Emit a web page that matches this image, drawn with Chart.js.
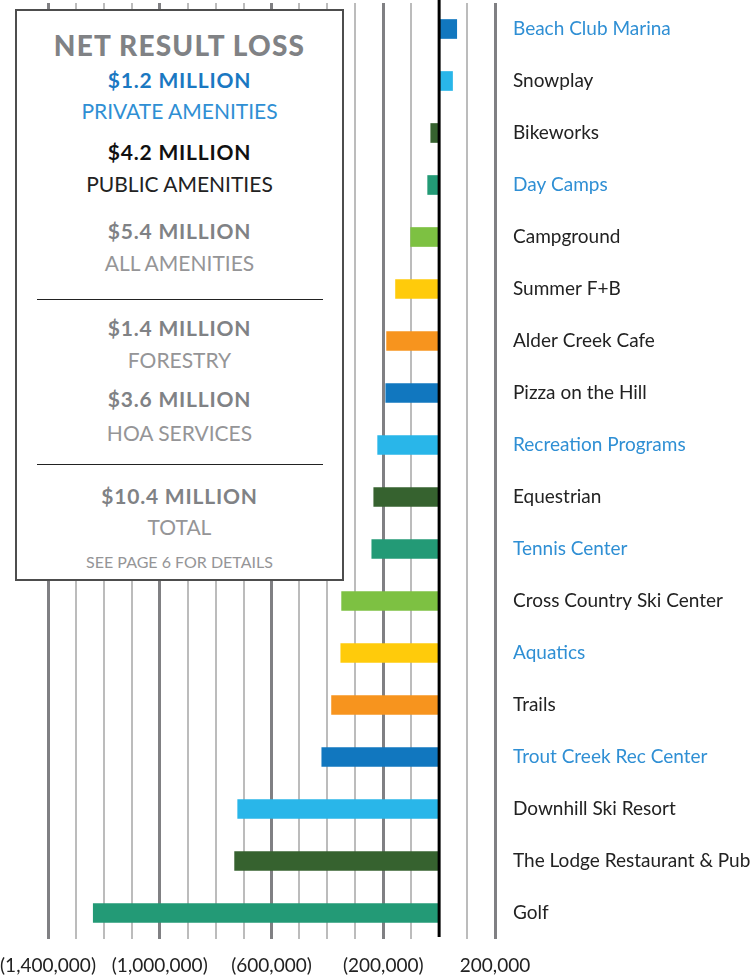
<!DOCTYPE html>
<html>
<head>
  <script src="https://cdn.jsdelivr.net/npm/chart.js"></script>
  <style>
    body { margin: 0; background: #fff; }
    .wrap { position: relative; width: 755px; height: 976px; font-family: Lato, sans-serif; }
    .box { position: absolute; left: 15px; top: 9px; width: 325px; height: 568px; border: 2px solid #4d4d4d; background: #fff; }
    .t { position: absolute; left: 15px; width: 329px; text-align: center; line-height: 30px; height: 30px; white-space: nowrap; }
    .big { font-size: 21px; font-weight: 700; color: #808285; letter-spacing: 0.8px; }
    .sub { font-size: 21px; font-weight: 400; color: #959597; }
    .rule { position: absolute; left: 37px; width: 286px; height: 0; border-top: 1.5px solid #222; }
  </style>
</head>
<body>
  <div class="wrap">
    <canvas id="lossChart" width="755" height="976"></canvas>
    <div class="box"></div>
    <div class="t" style="top:30px; font-size:28px; font-weight:900; color:#808285; letter-spacing:1.2px;">NET RESULT LOSS</div>
    <div class="t big" style="top:65px; color:#1a78c2;">$1.2 MILLION</div>
    <div class="t sub" style="top:96px; color:#2f8fd4;">PRIVATE AMENITIES</div>
    <div class="t big" style="top:137px; color:#111;">$4.2 MILLION</div>
    <div class="t sub" style="top:169px; color:#222;">PUBLIC AMENITIES</div>
    <div class="t big" style="top:216px;">$5.4 MILLION</div>
    <div class="t sub" style="top:248px;">ALL AMENITIES</div>
    <div class="rule" style="top:299px;"></div>
    <div class="t big" style="top:313px;">$1.4 MILLION</div>
    <div class="t sub" style="top:345px;">FORESTRY</div>
    <div class="t big" style="top:384px;">$3.6 MILLION</div>
    <div class="t sub" style="top:418px;">HOA SERVICES</div>
    <div class="rule" style="top:464px;"></div>
    <div class="t big" style="top:481px;">$10.4 MILLION</div>
    <div class="t sub" style="top:512px;">TOTAL</div>
    <div class="t" style="top:547px; font-size:16px; color:#959597;">SEE PAGE 6 FOR DETAILS</div>
  </div>
<script>
  // amenities, top to bottom
  var categories = ['Beach Club Marina', 'Snowplay', 'Bikeworks', 'Day Camps', 'Campground',
    'Summer F+B', 'Alder Creek Cafe', 'Pizza on the Hill', 'Recreation Programs', 'Equestrian',
    'Tennis Center', 'Cross Country Ski Center', 'Aquatics', 'Trails', 'Trout Creek Rec Center',
    'Downhill Ski Resort', 'The Lodge Restaurant & Pub', 'Golf'];

  // net result ($)
  var netResult = [63000, 48000, -30000, -41000, -102000, -156000, -188000, -191000, -220000,
    -234000, -241000, -349000, -352000, -385000, -420000, -721000, -732000, -1238000];

  var barColors = ['#1177bf', '#29b6e9', '#36622f', '#239a76', '#7dc142', '#ffcb0b', '#f7941e',
    '#1177bf', '#29b6e9', '#36622f', '#239a76', '#7dc142', '#ffcb0b', '#f7941e',
    '#1177bf', '#29b6e9', '#36622f', '#239a76'];

  // private amenities are blue, public ones dark
  var isPrivate = [true, false, false, true, false, false, false, false, true, false,
    true, false, true, false, true, false, false, false];

  var xTickLabels = [-1400000, -1000000, -600000, -200000, 200000];

  function fmt(v) {
    var s = Math.abs(v).toLocaleString('en-US');
    return v < 0 ? '(' + s + ')' : s;
  }

  // black zero line sits over the bars
  var zeroLine = {
    id: 'zeroLine',
    afterDatasetsDraw: function(chart) {
      var x = chart.scales.x.getPixelForValue(0);
      var a = chart.chartArea;
      var c = chart.ctx;
      c.save();
      c.strokeStyle = '#000';
      c.lineWidth = 3;
      c.beginPath();
      c.moveTo(x, a.top - 3);
      c.lineTo(x, a.bottom - 2);
      c.stroke();
      c.restore();
    }
  };

  var ctx = document.getElementById('lossChart').getContext('2d');
  var lossChart = new Chart(ctx, {
    type: 'bar',
    data: {
      labels: categories,
      datasets: [{
        data: netResult,
        backgroundColor: barColors,
        barThickness: 19,
        borderWidth: 0
      }]
    },
    options: {
      indexAxis: 'y',
      responsive: false,
      animation: false,
      layout: { padding: { left: 48, top: 3, right: 0, bottom: 0 } },
      plugins: {
        legend: { display: false },
        tooltip: { enabled: false }
      },
      scales: {
        x: {
          min: -1400000,
          max: 200000,
          grid: {
            drawTicks: false,
            color: function(c) {
              var v = c.tick ? c.tick.value : 1;
              if (v === 0) return 'rgba(0,0,0,0)';
              return xTickLabels.indexOf(v) >= 0 ? '#808083' : '#bcbcbc';
            },
            lineWidth: function(c) {
              var v = c.tick ? c.tick.value : 1;
              return xTickLabels.indexOf(v) >= 0 ? 3 : 2;
            }
          },
          border: { display: false },
          ticks: {
            stepSize: 100000,
            autoSkip: false,
            maxRotation: 0,
            padding: 15,
            color: '#222',
            font: { family: 'Lato', size: 19 },
            callback: function(v) {
              return xTickLabels.indexOf(v) >= 0 ? fmt(v) : '';
            }
          },
          afterFit: function(s) {
            s.height = 37;
            s.paddingLeft = 0;
            s.paddingRight = 0;
          }
        },
        y: {
          position: 'right',
          grid: { display: false, drawTicks: false },
          border: { display: false },
          ticks: {
            crossAlign: 'near',
            padding: 18,
            color: function(c) { return isPrivate[c.index] ? '#2f8fd4' : '#222'; },
            font: { family: 'Lato', size: 19 }
          },
          afterFit: function(s) {
            s.width = 260;
            s.paddingTop = 0;
            s.paddingBottom = 0;
          }
        }
      }
    },
    plugins: [zeroLine]
  });
</script>
</body>
</html>
